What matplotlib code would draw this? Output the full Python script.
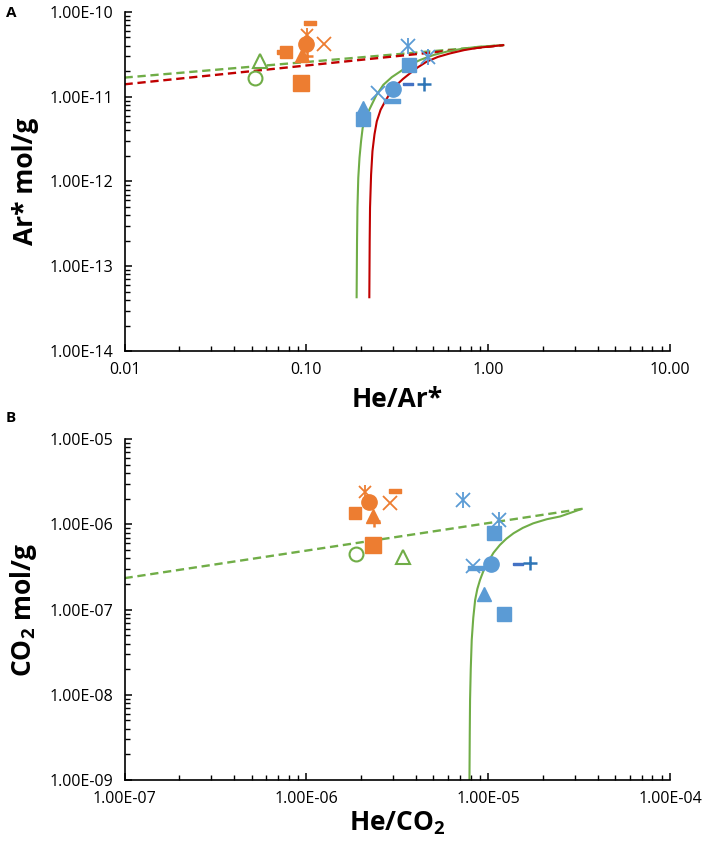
import matplotlib
matplotlib.use('Agg')
import matplotlib.pyplot as plt
from matplotlib.ticker import FixedLocator, FuncFormatter, NullFormatter

plt.rcParams['font.family'] = ['Open Sans', 'DejaVu Sans']
plt.rcParams['mathtext.fontset'] = 'custom'
plt.rcParams['mathtext.rm'] = 'Open Sans:bold'
plt.rcParams['mathtext.bf'] = 'Open Sans:bold'

ORANGE = '#ED7D31'
BLUE = '#5B9BD5'
DARKBLUE = '#2E75B6'
GREEN = '#70AD47'
RED = '#C00000'

# ---------------- 面板A数据: He/Ar* vs Ar* ----------------
a_xticks = [0.01, 0.1, 1, 10]
a_yticks = [1e-14, 1e-13, 1e-12, 1e-11, 1e-10]

a_orange_circle_x = [0.0993]
a_orange_circle_y = [4.24e-11]
a_orange_ast_x = [0.1005]
a_orange_ast_y = [5.37e-11]
a_orange_dash_x = [0.105, 0.0745]
a_orange_dash_y = [7.43e-11, 3.40e-11]
a_orange_x_x = [0.1256]
a_orange_x_y = [4.13e-11]
a_orange_sq_small_x = [0.0773]
a_orange_sq_small_y = [3.40e-11]
a_orange_tri_x = [0.0944]
a_orange_tri_y = [3.10e-11]
a_orange_plus_x = [0.1010]
a_orange_plus_y = [3.00e-11]
a_orange_sq_big_x = [0.0935]
a_orange_sq_big_y = [1.44e-11]

a_green_tri_x = [0.0556]
a_green_tri_y = [2.64e-11]
a_green_circle_x = [0.0523]
a_green_circle_y = [1.68e-11]

a_blue_ast_x = [0.364, 0.469]
a_blue_ast_y = [3.95e-11, 2.96e-11]
a_blue_sq_x = [0.367, 0.204]
a_blue_sq_y = [2.37e-11, 5.5e-12]
a_blue_dash_x = [0.361]
a_blue_dash_y = [1.42e-11]
a_blue_longdash_x = [0.295]
a_blue_longdash_y = [9.0e-12]
a_blue_plus_x = [0.441]
a_blue_plus_y = [1.42e-11]
a_blue_circle_x = [0.301]
a_blue_circle_y = [1.24e-11]
a_blue_x_x = [0.249]
a_blue_x_y = [1.10e-11]
a_blue_tri_x = [0.206]
a_blue_tri_y = [7.3e-12]

# 曲线
a_green_dash_x = [0.01, 1.21]
a_green_dash_y = [1.68e-11, 4.06e-11]
a_red_dash_x = [0.01, 1.21]
a_red_dash_y = [1.40e-11, 4.06e-11]
a_green_curve_x = [0.189, 0.190, 0.191, 0.193, 0.196, 0.200, 0.204, 0.213, 0.224, 0.242,
                   0.265, 0.295, 0.328, 0.372, 0.422, 0.500, 0.591, 0.720, 0.882, 1.21]
a_green_curve_y = [4.31e-14, 2.0e-13, 4.91e-13, 1.1e-12, 1.90e-12, 3.0e-12, 4.27e-12,
                   5.8e-12, 7.33e-12, 1.03e-11, 1.38e-11, 1.70e-11, 1.98e-11, 2.38e-11,
                   2.71e-11, 3.10e-11, 3.40e-11, 3.68e-11, 3.88e-11, 4.06e-11]
a_red_curve_x = [0.222, 0.223, 0.224, 0.227, 0.231, 0.237, 0.244, 0.256, 0.271, 0.290,
                 0.314, 0.340, 0.372, 0.410, 0.459, 0.530, 0.617, 0.740, 0.882, 1.21]
a_red_curve_y = [4.31e-14, 2.0e-13, 4.91e-13, 1.2e-12, 2.28e-12, 3.6e-12, 5.12e-12,
                 7.0e-12, 8.79e-12, 1.12e-11, 1.38e-11, 1.62e-11, 1.89e-11, 2.22e-11,
                 2.59e-11, 2.95e-11, 3.24e-11, 3.55e-11, 3.78e-11, 4.06e-11]

# ---------------- 面板B数据: He/CO2 vs CO2 ----------------
b_xticks = [1e-7, 1e-6, 1e-5, 1e-4]
b_yticks = [1e-9, 1e-8, 1e-7, 1e-6, 1e-5]

b_orange_circle_x = [2.21e-6]
b_orange_circle_y = [1.85e-6]
b_orange_ast_x = [2.09e-6]
b_orange_ast_y = [2.43e-6]
b_orange_dash_x = [3.08e-6]
b_orange_dash_y = [2.47e-6]
b_orange_x_x = [2.89e-6]
b_orange_x_y = [1.77e-6]
b_orange_sq_small_x = [1.85e-6]
b_orange_sq_small_y = [1.37e-6]
b_orange_tri_x = [2.32e-6]
b_orange_tri_y = [1.24e-6]
b_orange_plus_x = [2.36e-6]
b_orange_plus_y = [1.10e-6]
b_orange_sq_big_x = [2.32e-6]
b_orange_sq_big_y = [5.74e-7]

b_green_circle_x = [1.87e-6]
b_green_circle_y = [4.51e-7]
b_green_tri_x = [3.39e-6]
b_green_tri_y = [4.19e-7]

b_blue_ast_x = [7.31e-6, 1.15e-5]
b_blue_ast_y = [1.94e-6, 1.13e-6]
b_blue_sq_x = [1.08e-5, 1.22e-5]
b_blue_sq_y = [7.89e-7, 8.91e-8]
b_blue_x_x = [8.30e-6]
b_blue_x_y = [3.26e-7]
b_blue_longdash_x = [8.58e-6]
b_blue_longdash_y = [3.06e-7]
b_blue_circle_x = [1.04e-5]
b_blue_circle_y = [3.43e-7]
b_blue_dash_x = [1.45e-5]
b_blue_dash_y = [3.43e-7]
b_blue_plus_x = [1.69e-5]
b_blue_plus_y = [3.56e-7]
b_blue_tri_x = [9.53e-6]
b_blue_tri_y = [1.53e-7]

b_green_dash_x = [1e-7, 3.27e-5]
b_green_dash_y = [2.34e-7, 1.52e-6]
b_green_curve_x = [7.89e-6, 7.92e-6, 7.95e-6, 8.02e-6, 8.12e-6, 8.28e-6, 8.48e-6, 8.72e-6,
                   9.02e-6, 9.45e-6, 1.00e-5, 1.07e-5, 1.16e-5, 1.26e-5, 1.38e-5, 1.55e-5,
                   1.77e-5, 2.10e-5, 2.49e-5, 3.27e-5]
b_green_curve_y = [1e-9, 3.5e-9, 8.71e-9, 2.0e-8, 4.40e-8, 8.0e-8, 1.30e-7, 1.75e-7,
                   2.23e-7, 2.90e-7, 3.65e-7, 4.65e-7, 5.74e-7, 6.80e-7, 7.88e-7, 9.10e-7,
                   1.03e-6, 1.15e-6, 1.24e-6, 1.52e-6]

# 短横线标记
DASH = [(-1, -0.28), (1, -0.28), (1, 0.28), (-1, 0.28), (-1, -0.28)]


def minor_ticks(majors):
    """每个十倍程内的2-9次刻度"""
    out = []
    for m in majors[:-1]:
        out.extend([m * k for k in range(2, 10)])
    return out


def draw_points(ax, x, y, kind, color, size=11):
    """按标记类型绘制数据点"""
    if not x:
        return
    if kind == 'circle':
        ax.plot(x, y, 'o', ms=size, color=color, mec=color, zorder=5)
    elif kind == 'open_circle':
        ax.plot(x, y, 'o', ms=size, mfc='white', mec=color, mew=1.5, zorder=5)
    elif kind == 'open_tri':
        ax.plot(x, y, '^', ms=size, mfc='white', mec=color, mew=1.5, zorder=5)
    elif kind == 'tri':
        ax.plot(x, y, '^', ms=size, color=color, zorder=5)
    elif kind == 'square':
        ax.plot(x, y, 's', ms=size, color=color, zorder=5)
    elif kind == 'x':
        ax.plot(x, y, 'x', ms=size, mew=1.3, color=color, zorder=5)
    elif kind == 'plus':
        ax.plot(x, y, '+', ms=size, mew=1.8, color=color, zorder=5)
    elif kind == 'asterisk':
        ax.plot(x, y, 'x', ms=size, mew=1.3, color=color, zorder=5)
        ax.plot(x, y, '|', ms=size * 1.2, mew=1.3, color=color, zorder=5)
    elif kind == 'dash':
        ax.plot(x, y, marker=DASH, ls='none', ms=size, color=color, zorder=5)


def style_axis(ax, xticks, yticks, xfmt, xlabel, ylabel, xpad=6):
    ax.set_xscale('log')
    ax.set_yscale('log')
    ax.set_xlim(xticks[0], xticks[-1])
    ax.set_ylim(yticks[0], yticks[-1])
    for s in ['top', 'right']:
        ax.spines[s].set_visible(False)
    for s in ['left', 'bottom']:
        ax.spines[s].set_linewidth(1.2)
    ax.xaxis.set_major_locator(FixedLocator(xticks))
    ax.yaxis.set_major_locator(FixedLocator(yticks))
    ax.xaxis.set_minor_locator(FixedLocator(minor_ticks(xticks)))
    ax.yaxis.set_minor_locator(FixedLocator(minor_ticks(yticks)))
    ax.xaxis.set_minor_formatter(NullFormatter())
    ax.yaxis.set_minor_formatter(NullFormatter())
    ax.xaxis.set_major_formatter(FuncFormatter(xfmt))
    ax.yaxis.set_major_formatter(FuncFormatter(lambda v, p: f'{v:.2E}'))
    ax.tick_params(which='major', direction='in', length=5, width=1.1, labelsize=11.5, pad=8)
    ax.tick_params(which='minor', direction='in', length=3.5, width=1.0)
    ax.set_xlabel(xlabel, fontsize=19, fontweight='bold', labelpad=xpad)
    ax.set_ylabel(ylabel, fontsize=19, fontweight='bold', labelpad=8)


fig = plt.figure(figsize=(7.02, 8.52), dpi=100)
ax_a = fig.add_axes([0.1774, 0.588, 0.777, 0.398])
ax_b = fig.add_axes([0.1774, 0.0845, 0.777, 0.400])

# 面板A
ax_a.plot(a_green_dash_x, a_green_dash_y, '--', color=GREEN, lw=1.7, dashes=(3.5, 2))
ax_a.plot(a_red_dash_x, a_red_dash_y, '--', color=RED, lw=1.7, dashes=(3.5, 2))
ax_a.plot(a_green_curve_x, a_green_curve_y, '-', color=GREEN, lw=1.5)
ax_a.plot(a_red_curve_x, a_red_curve_y, '-', color=RED, lw=1.5)

draw_points(ax_a, a_orange_dash_x, a_orange_dash_y, 'dash', ORANGE, 8)
draw_points(ax_a, a_orange_ast_x, a_orange_ast_y, 'asterisk', ORANGE, 9)
draw_points(ax_a, a_orange_circle_x, a_orange_circle_y, 'circle', ORANGE, 11)
draw_points(ax_a, a_orange_x_x, a_orange_x_y, 'x', ORANGE, 9.5)
draw_points(ax_a, a_orange_plus_x, a_orange_plus_y, 'plus', ORANGE, 8)
draw_points(ax_a, a_orange_sq_small_x, a_orange_sq_small_y, 'square', ORANGE, 8)
draw_points(ax_a, a_orange_tri_x, a_orange_tri_y, 'tri', ORANGE, 10)
draw_points(ax_a, a_orange_sq_big_x, a_orange_sq_big_y, 'square', ORANGE, 11)
draw_points(ax_a, a_green_tri_x, a_green_tri_y, 'open_tri', GREEN, 10)
draw_points(ax_a, a_green_circle_x, a_green_circle_y, 'open_circle', GREEN, 10)
draw_points(ax_a, a_blue_ast_x, a_blue_ast_y, 'asterisk', BLUE, 10)
draw_points(ax_a, a_blue_tri_x, a_blue_tri_y, 'tri', BLUE, 10)
draw_points(ax_a, a_blue_sq_x, a_blue_sq_y, 'square', BLUE, 10)
draw_points(ax_a, a_blue_dash_x, a_blue_dash_y, 'dash', '#4472C4', 7)
draw_points(ax_a, a_blue_longdash_x, a_blue_longdash_y, 'dash', BLUE, 11)
draw_points(ax_a, a_blue_plus_x, a_blue_plus_y, 'plus', DARKBLUE, 10)
draw_points(ax_a, a_blue_x_x, a_blue_x_y, 'x', BLUE, 10)
draw_points(ax_a, a_blue_circle_x, a_blue_circle_y, 'circle', BLUE, 11)

style_axis(ax_a, a_xticks, a_yticks, lambda v, p: f'{v:.2f}',
           'He/Ar*', 'Ar* mol/g')

# 面板B
ax_b.plot(b_green_dash_x, b_green_dash_y, '--', color=GREEN, lw=1.7, dashes=(3.5, 2))
ax_b.plot(b_green_curve_x, b_green_curve_y, '-', color=GREEN, lw=1.5)

draw_points(ax_b, b_orange_dash_x, b_orange_dash_y, 'dash', ORANGE, 8)
draw_points(ax_b, b_orange_ast_x, b_orange_ast_y, 'asterisk', ORANGE, 9)
draw_points(ax_b, b_orange_circle_x, b_orange_circle_y, 'circle', ORANGE, 11)
draw_points(ax_b, b_orange_x_x, b_orange_x_y, 'x', ORANGE, 9.5)
draw_points(ax_b, b_orange_plus_x, b_orange_plus_y, 'plus', ORANGE, 9)
draw_points(ax_b, b_orange_sq_small_x, b_orange_sq_small_y, 'square', ORANGE, 8)
draw_points(ax_b, b_orange_tri_x, b_orange_tri_y, 'tri', ORANGE, 10)
draw_points(ax_b, b_orange_sq_big_x, b_orange_sq_big_y, 'square', ORANGE, 11)
draw_points(ax_b, b_green_circle_x, b_green_circle_y, 'open_circle', GREEN, 10)
draw_points(ax_b, b_green_tri_x, b_green_tri_y, 'open_tri', GREEN, 10)
draw_points(ax_b, b_blue_ast_x, b_blue_ast_y, 'asterisk', BLUE, 10)
draw_points(ax_b, b_blue_sq_x, b_blue_sq_y, 'square', BLUE, 10)
draw_points(ax_b, b_blue_x_x, b_blue_x_y, 'x', BLUE, 10)
draw_points(ax_b, b_blue_longdash_x, b_blue_longdash_y, 'dash', BLUE, 11)
draw_points(ax_b, b_blue_circle_x, b_blue_circle_y, 'circle', BLUE, 11)
draw_points(ax_b, b_blue_dash_x, b_blue_dash_y, 'dash', '#4472C4', 7)
draw_points(ax_b, b_blue_plus_x, b_blue_plus_y, 'plus', DARKBLUE, 10)
draw_points(ax_b, b_blue_tri_x, b_blue_tri_y, 'tri', BLUE, 10)

style_axis(ax_b, b_xticks, b_yticks, lambda v, p: f'{v:.2E}',
           'He/CO$_2$', 'CO$_2$ mol/g', xpad=2)

# 面板标记
fig.text(0.008, 0.985, 'A', fontsize=11, fontweight='bold', va='center')
fig.text(0.008, 0.509, 'B', fontsize=11, fontweight='bold', va='center')

fig.savefig('out.png', dpi=100)
plt.close(fig)
